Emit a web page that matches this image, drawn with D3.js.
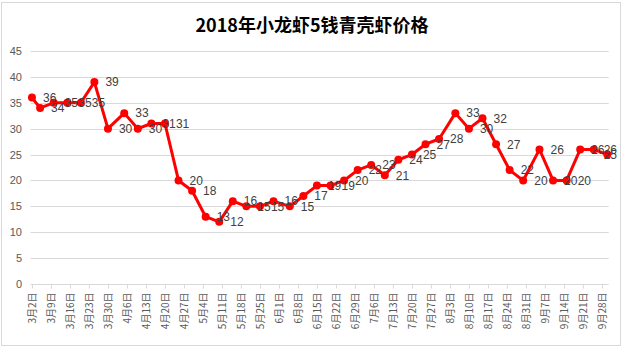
<!DOCTYPE html>
<html><head><meta charset="utf-8">
<script src="https://cdn.jsdelivr.net/npm/d3@7"></script>
<style>html,body{margin:0;padding:0;background:#fff;}svg{display:block;}</style>
</head><body>
<svg id="chart" width="624" height="350"></svg>
<script>
const title = "2018年小龙虾5钱青壳虾价格";
const dates = ["2018-03-02","2018-03-05","2018-03-10","2018-03-15","2018-03-20","2018-03-25","2018-03-30",
"2018-04-05","2018-04-10","2018-04-15","2018-04-20","2018-04-25","2018-04-30",
"2018-05-05","2018-05-10","2018-05-15","2018-05-20","2018-05-25","2018-05-30",
"2018-06-05","2018-06-10","2018-06-15","2018-06-20","2018-06-25","2018-06-30",
"2018-07-05","2018-07-10","2018-07-15","2018-07-20","2018-07-25","2018-07-30",
"2018-08-05","2018-08-10","2018-08-15","2018-08-20","2018-08-25","2018-08-30",
"2018-09-05","2018-09-10","2018-09-15","2018-09-20","2018-09-25","2018-09-30"];
const prices = [36,34,35,35,35,39,30,
33,30,31,31,20,18,
13,12,16,15,15,16,
15,17,19,19,20,22,
23,21,24,25,27,28,
33,30,32,27,22,20,
26,20,20,26,26,25];
const tickDates = ["2018-03-02","2018-03-09","2018-03-16","2018-03-23","2018-03-30",
"2018-04-06","2018-04-13","2018-04-20","2018-04-27",
"2018-05-04","2018-05-11","2018-05-18","2018-05-25",
"2018-06-01","2018-06-08","2018-06-15","2018-06-22","2018-06-29",
"2018-07-06","2018-07-13","2018-07-20","2018-07-27",
"2018-08-03","2018-08-10","2018-08-17","2018-08-24","2018-08-31",
"2018-09-07","2018-09-14","2018-09-21","2018-09-28"];
const yTicks = [0,5,10,15,20,25,30,35,40,45];

(function(){
const parse = d3.utcParse("%Y-%m-%d");
const data = dates.map((d,i)=>({date:parse(d), value:prices[i]}));
const ticks = tickDates.map(parse);

const svg = d3.select("#chart");
const pL = 30.6, pR = 608.7, pT = 51, pB = 284;

svg.append("rect").attr("x",1.5).attr("y",2.5).attr("width",619).attr("height",343)
  .attr("fill","#fff").attr("stroke","#d9d9d9").attr("stroke-width",1);

const x = d3.scaleUtc()
  .domain([d3.utcHour.offset(data[0].date,-12), d3.utcHour.offset(data[data.length-1].date,12)])
  .range([pL,pR]);
const y = d3.scaleLinear().domain([0,45]).range([pB,pT]);

svg.append("g").selectAll("line").data(yTicks.filter(d=>d>0)).join("line")
  .attr("x1",pL).attr("x2",pR)
  .attr("y1",d=>Math.round(y(d))+0.5).attr("y2",d=>Math.round(y(d))+0.5)
  .attr("stroke","#d9d9d9").attr("stroke-width",1);

const yAxis = d3.axisLeft(y).tickValues(yTicks).tickSize(0).tickPadding(0);
const gy = svg.append("g").attr("transform",`translate(22,0)`).call(yAxis);
gy.select(".domain").remove();
gy.selectAll("text").attr("font-family","'Liberation Sans', Arial, sans-serif")
  .attr("font-size","11px").attr("fill","#595959");

const xAxis = d3.axisBottom(x).tickValues(ticks).tickSize(4).tickSizeOuter(0)
  .tickFormat(d3.utcFormat("%-m月%-d日"));
const gx = svg.append("g").attr("transform",`translate(0,${Math.round(pB)+0.5})`).call(xAxis);
gx.select(".domain").attr("stroke","#d9d9d9").attr("d",`M${pL},0H${pR}`);
gx.selectAll(".tick line").attr("stroke","#d9d9d9");
gx.selectAll("text")
  .attr("font-family","'Noto Sans CJK SC', sans-serif").attr("font-size","10px").attr("fill","#595959")
  .attr("text-anchor","end").attr("dy","0.35em")
  .attr("transform","rotate(-90)").attr("x",-8).attr("y",0);

const line = d3.line().x(d=>x(d.date)).y(d=>y(d.value));
svg.append("path").datum(data).attr("d",line)
  .attr("fill","none").attr("stroke","#ff0000").attr("stroke-width",3).attr("stroke-linejoin","round");
svg.append("g").selectAll("circle").data(data).join("circle")
  .attr("cx",d=>x(d.date)).attr("cy",d=>y(d.value)).attr("r",4).attr("fill","#ff0000");

svg.append("g").selectAll("text").data(data).join("text")
  .attr("y",d=>y(d.value)).attr("dy","0.36em")
  .attr("font-family","'Liberation Sans', Arial, sans-serif").attr("font-size","12px").attr("fill","#404040")
  .text(d=>d.value)
  .attr("x",function(d){
    const w = this.getComputedTextLength();
    return Math.min(x(d.date)+11, 617 - w);
  });

svg.append("text").attr("x",312).attr("y",32).attr("text-anchor","middle")
  .attr("font-family","'Noto Sans CJK SC', sans-serif").attr("font-weight","bold").attr("font-size","18px")
  .attr("fill","#000").text(title);
})();
</script>
</body></html>
